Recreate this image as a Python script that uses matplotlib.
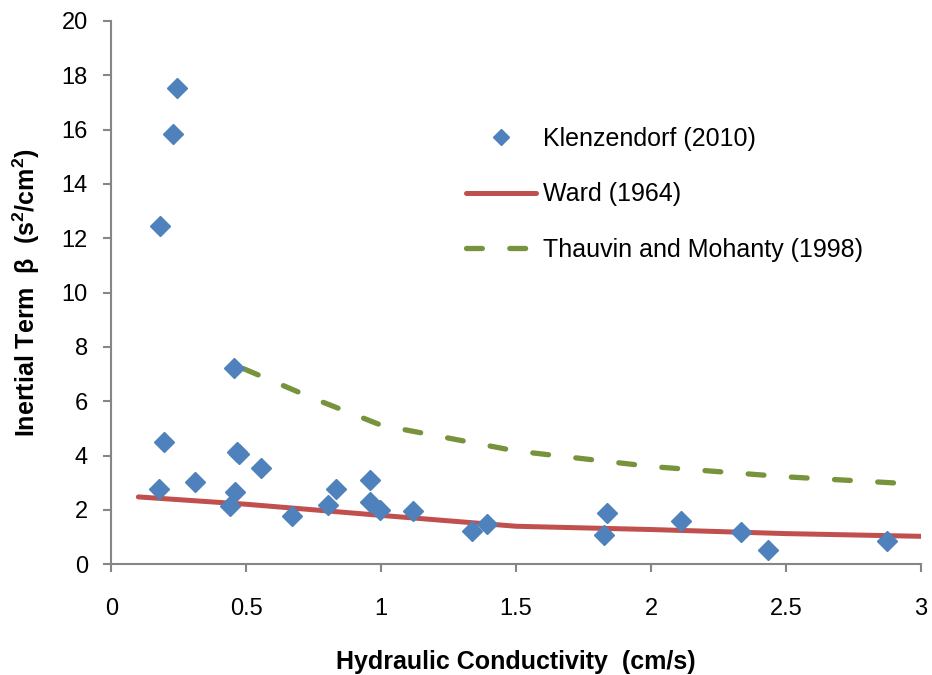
import matplotlib.pyplot as plt

plt.rcParams['font.family'] = ['Liberation Sans', 'DejaVu Sans']
plt.rcParams['mathtext.fontset'] = 'custom'
plt.rcParams['mathtext.rm'] = 'Liberation Sans'
plt.rcParams['mathtext.bf'] = 'Liberation Sans:bold'

# Klenzendorf (2010) measured points
k_meas = [0.182, 0.229, 0.242, 0.177, 0.194, 0.309, 0.456, 0.457, 0.439, 0.466, 0.474,
          0.556, 0.670, 0.803, 0.831, 0.958, 0.958, 0.995, 1.117, 1.338, 1.394,
          1.836, 1.825, 2.113, 2.333, 2.435, 2.876]
beta_meas = [12.46, 15.85, 17.52, 2.77, 4.49, 3.02, 7.24, 2.66, 2.14, 4.13, 4.05,
             3.56, 1.79, 2.20, 2.77, 3.09, 2.31, 2.01, 1.96, 1.23, 1.50,
             1.90, 1.08, 1.60, 1.18, 0.54, 0.84]

# Ward (1964)
k_ward = [0.1, 0.5, 1.0, 1.5, 2.0, 2.5, 3.0]
beta_ward = [2.48, 2.21, 1.80, 1.40, 1.28, 1.13, 1.03]

# Thauvin and Mohanty (1998)
k_tm = [0.49, 0.75, 1.0, 1.5, 2.0, 2.5, 3.0]
beta_tm = [7.2, 6.1, 5.12, 4.17, 3.6, 3.22, 2.94]

fig = plt.figure(figsize=(9.32, 6.75), dpi=100)
ax = fig.add_axes([0.1195, 0.1640, 0.8685, 0.8050])

ax.plot(k_meas, beta_meas, linestyle='none', marker='D', ms=10.5,
        color='#4F81BD', label='Klenzendorf (2010)', zorder=3)
ax.plot(k_ward, beta_ward, color='#C0504D', lw=3.6,
        solid_capstyle='round', label='Ward (1964)', zorder=2)
ax.plot(k_tm, beta_tm, color='#77933C', lw=3.8, dashes=(3.0, 5.2),
        dash_capstyle='round', label='Thauvin and Mohanty (1998)', zorder=2)

ax.set_xlim(0, 3)
ax.set_ylim(0, 20)
ax.set_xticks([0, 0.5, 1, 1.5, 2, 2.5, 3])
ax.set_xticklabels(['0', '0.5', '1', '1.5', '2', '2.5', '3'])
ax.set_yticks(range(0, 21, 2))

for s in ['top', 'right']:
    ax.spines[s].set_visible(False)
for s in ['left', 'bottom']:
    ax.spines[s].set_color('#868686')
    ax.spines[s].set_linewidth(1.5)
ax.tick_params(direction='out', length=6, width=1.5, color='#868686', labelsize=17)
ax.tick_params(axis='x', pad=18)
ax.tick_params(axis='y', pad=11)

ax.set_xlabel('Hydraulic Conductivity  (cm/s)', fontsize=18, fontweight='bold', labelpad=22)
ax.set_ylabel(r'Inertial Term  β  (s$^{\mathbf{2}}$/cm$^{\mathbf{2}}$)', fontsize=18,
              fontweight='bold', labelpad=14)

ax.legend(loc='upper left', bbox_to_anchor=(0.410, 0.846), frameon=False,
          fontsize=18, labelspacing=1.25, handlelength=2.8, handletextpad=0.3,
          markerscale=0.82)

fig.savefig('out.png', dpi=100)
